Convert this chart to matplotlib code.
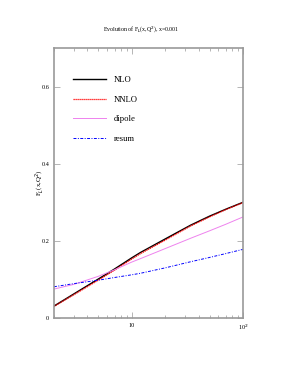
import matplotlib.pyplot as plt

plt.rcParams['font.family'] = ['Liberation Serif', 'DejaVu Serif']

# Q^2 values (GeV^2) and F_L
q2 = [2, 3, 5, 7, 10, 12, 20, 34, 50, 70, 100]
f_nlo = [0.031, 0.062, 0.101, 0.127, 0.156, 0.170, 0.205, 0.241, 0.264, 0.282, 0.300]
f_nnlo = [0.030, 0.060, 0.098, 0.124, 0.153, 0.167, 0.202, 0.239, 0.262, 0.281, 0.299]
f_dipole = [0.075, 0.087, 0.108, 0.125, 0.145, 0.154, 0.180, 0.207, 0.226, 0.243, 0.262]
f_resum = [0.081, 0.089, 0.098, 0.105, 0.112, 0.116, 0.130, 0.146, 0.157, 0.167, 0.178]

fig = plt.figure(figsize=(2.91, 3.76), dpi=100)
ax = fig.add_axes([54 / 291, 1 - 318 / 376, 189 / 291, 270 / 376])

ax.plot(q2, f_nlo, color='black', lw=1.0, label='NLO')
ax.plot(q2, f_nnlo, color='red', lw=0.9, ls=(0, (1, 0.6)), label='NNLO')
ax.plot(q2, f_dipole, color='violet', lw=0.7, label='dipole')
ax.plot(q2, f_resum, color='blue', lw=0.7, ls=(0, (3, 1.5, 1, 1.5)), label='resum')

ax.set_xscale('log')
ax.set_xlim(2, 100)
ax.set_ylim(0, 0.7)
ax.set_yticks([0, 0.2, 0.4, 0.6])
ax.set_yticklabels(['0', '0.2', '0.4', '0.6'])
ax.set_xticks([10, 100])
ax.set_xticklabels(['10', '10$^2$'])
ax.tick_params(which='both', direction='in', top=True, right=True,
               labelsize=4.5, color='#999999', width=0.5)
ax.tick_params(which='major', length=4)
ax.tick_params(which='minor', length=2.5)
for s in ax.spines.values():
    s.set_color('#999999')
    s.set_linewidth(1.2)

ax.set_ylabel('F$_L$(x,Q$^2$)', fontsize=5)
ax.yaxis.set_label_coords(-0.04, 0.5)
fig.text(141 / 291, 1 - 29 / 376, 'Evolution of F$_L$(x,Q$^2$), x=0.001',
         fontsize=4.2, ha='center', va='center')

ax.legend(loc='upper left', bbox_to_anchor=(0.06, 0.925), frameon=False,
          fontsize=6.2, handlelength=3.8, handletextpad=0.9, labelspacing=1.35)

fig.savefig('out.png', dpi=100)
